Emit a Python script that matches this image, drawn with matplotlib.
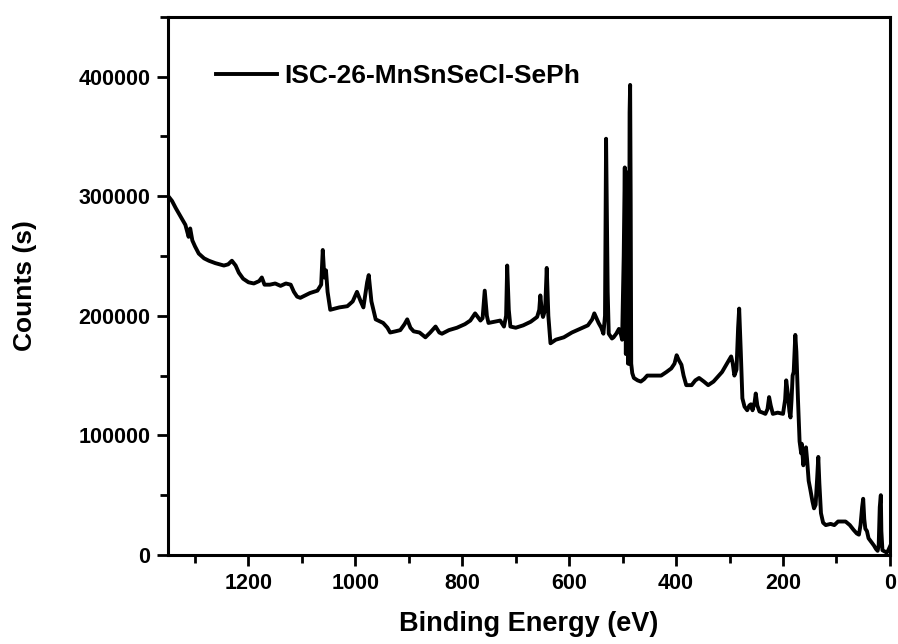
import matplotlib
matplotlib.use("Agg")
import matplotlib.pyplot as plt
from matplotlib.ticker import MultipleLocator

plt.rcParams['font.family'] = ['Liberation Sans', 'DejaVu Sans']
plt.rcParams['font.weight'] = 'bold'

series_label = "ISC-26-MnSnSeCl-SePh"
x_label = "Binding Energy (eV)"
y_label = "Counts (s)"

energy = [1350, 1343, 1336, 1327, 1318, 1312, 1309, 1305, 1300, 1293, 1283, 1274, 1262, 1246,
          1238, 1231, 1224, 1218, 1210, 1200, 1190, 1180, 1175, 1170, 1160, 1150, 1140, 1130,
          1121, 1115, 1109, 1103, 1094, 1085, 1071, 1064, 1061, 1058, 1055, 1052, 1047, 1030,
          1015, 1005, 997, 990, 985, 978, 975, 970, 962, 948, 940, 935, 925, 916, 908, 903,
          897, 891, 880, 869, 860, 850, 843, 838, 825, 810, 795, 785, 776, 766, 762, 758,
          754, 751, 740, 729, 722, 718, 716, 713, 710, 700, 686, 672, 660, 656, 654, 651,
          649, 645, 642, 639, 635, 625, 610, 595, 580, 565, 557, 553, 549, 545, 540, 536,
          533, 531, 528, 526, 520, 517, 512, 507, 503, 501, 498, 496, 495, 494, 493, 492,
          491, 490, 489, 488, 487, 486, 485, 484, 482, 479, 472, 466, 460, 454, 440, 428,
          418, 409, 403, 399, 395, 390, 386, 381, 371, 364, 357, 348, 340, 330, 320, 314,
          305, 301, 297, 294, 291, 287, 284, 282, 279, 276, 272, 267, 263, 260, 257, 253,
          251, 248, 244, 238, 233, 229, 226, 223, 219, 210, 200, 196, 194, 191, 188, 186,
          184, 182, 180, 178, 177, 175, 172, 169, 166, 165, 162, 159, 157, 155, 152, 149,
          145, 142, 139, 136, 134, 132, 129, 125, 120, 111, 104, 97, 90, 83, 75, 68,
          62, 58, 55, 52, 50, 48, 46, 43, 40, 35, 30, 26, 23, 21, 19, 17,
          16, 14, 10, 6, 3, 0]
counts = [300000, 296000, 290000, 283000, 276000, 266000, 273000, 263000, 258000, 252000, 248000, 246000, 244000, 242000,
          243000, 246000, 242000, 236000, 231000, 228000, 227000, 229000, 232000, 226000, 226000, 227000, 225000, 227000,
          226000, 220000, 216000, 215000, 217000, 219000, 221000, 226000, 255000, 232000, 238000, 220000, 205000, 207000,
          208000, 212000, 220000, 212000, 207000, 228000, 234000, 212000, 197000, 194000, 190000, 186000, 187000, 188000, 193000, 197000,
          190000, 187000, 186000, 182000, 186000, 191000, 186000, 185000, 188000, 190000, 193000, 196000, 202000, 196000, 198000, 221000,
          200000, 194000, 195000, 196000, 191000, 200000, 242000, 205000, 191000, 190000, 192000, 195000, 199000, 205000, 217000, 203000,
          199000, 205000, 240000, 200000, 177000, 180000, 182000, 186000, 189000, 192000, 197000, 202000, 198000, 194000, 190000, 185000,
          200000, 348000, 220000, 185000, 181000, 182000, 185000, 189000, 184000, 180000, 250000, 324000, 260000, 168000, 250000, 170000,
          300000, 160000, 320000, 160000, 370000, 393000, 300000, 160000, 152000, 148000, 146000, 145000, 147000, 150000, 150000, 150000,
          153000, 156000, 160000, 167000, 163000, 159000, 150000, 142000, 142000, 146000, 148000, 145000, 142000, 145000, 150000, 153000,
          160000, 163000, 166000, 160000, 150000, 155000, 190000, 206000, 170000, 131000, 124000, 121000, 125000, 126000, 121000, 128000,
          135000, 125000, 120000, 119000, 118000, 122000, 132000, 125000, 118000, 119000, 118000, 130000, 146000, 135000, 120000, 115000,
          130000, 150000, 153000, 175000, 184000, 170000, 130000, 95000, 85000, 93000, 75000, 86000, 90000, 80000, 62000, 55000,
          45000, 39000, 42000, 65000, 82000, 60000, 35000, 27000, 25000, 26000, 25000, 28000, 28000, 28000, 25000, 21000,
          18000, 17000, 25000, 40000, 47000, 30000, 22000, 20000, 14000, 11000, 8000, 5000, 3500, 8000, 40000, 50000,
          20000, 4000, 3000, 2000, 4000, 7000]

x_ticks = [1200, 1000, 800, 600, 400, 200, 0]
y_ticks = [0, 100000, 200000, 300000, 400000]

fig = plt.figure(figsize=(8.98, 6.44), dpi=100)
ax = fig.add_axes([0.1874, 0.1382, 0.8036, 0.8358])
ax.plot(energy, counts, color='black', lw=2.8, label=series_label, solid_joinstyle='round')

ax.set_xlim(1350, 0)
ax.set_ylim(0, 450000)
ax.set_xticks(x_ticks)
ax.set_yticks(y_ticks)
ax.xaxis.set_minor_locator(MultipleLocator(100))
ax.yaxis.set_minor_locator(MultipleLocator(50000))
ax.set_xticklabels([str(v) for v in x_ticks])
ax.set_yticklabels([str(v) for v in y_ticks])

for s in ax.spines.values():
    s.set_linewidth(2.2)
ax.tick_params(which='major', direction='out', length=8, width=2.0, labelsize=15.5, pad=5,
               top=False, right=False)
ax.tick_params(which='minor', direction='out', length=5.5, width=2.0, top=False, right=False)
for lab in ax.get_xticklabels() + ax.get_yticklabels():
    lab.set_fontweight('bold')

ax.set_xlabel(x_label, fontsize=19.5, fontweight='bold', labelpad=12)
ax.set_ylabel(y_label, fontsize=19, fontweight='bold', labelpad=30)

leg = ax.legend(loc='center left', bbox_to_anchor=(0.033, 0.89), frameon=False,
                handlelength=2.3, handletextpad=0.3, prop={'size': 19, 'weight': 'bold'})
for h in leg.get_lines():
    h.set_linewidth(2.8)

fig.savefig('out.png', dpi=100)
